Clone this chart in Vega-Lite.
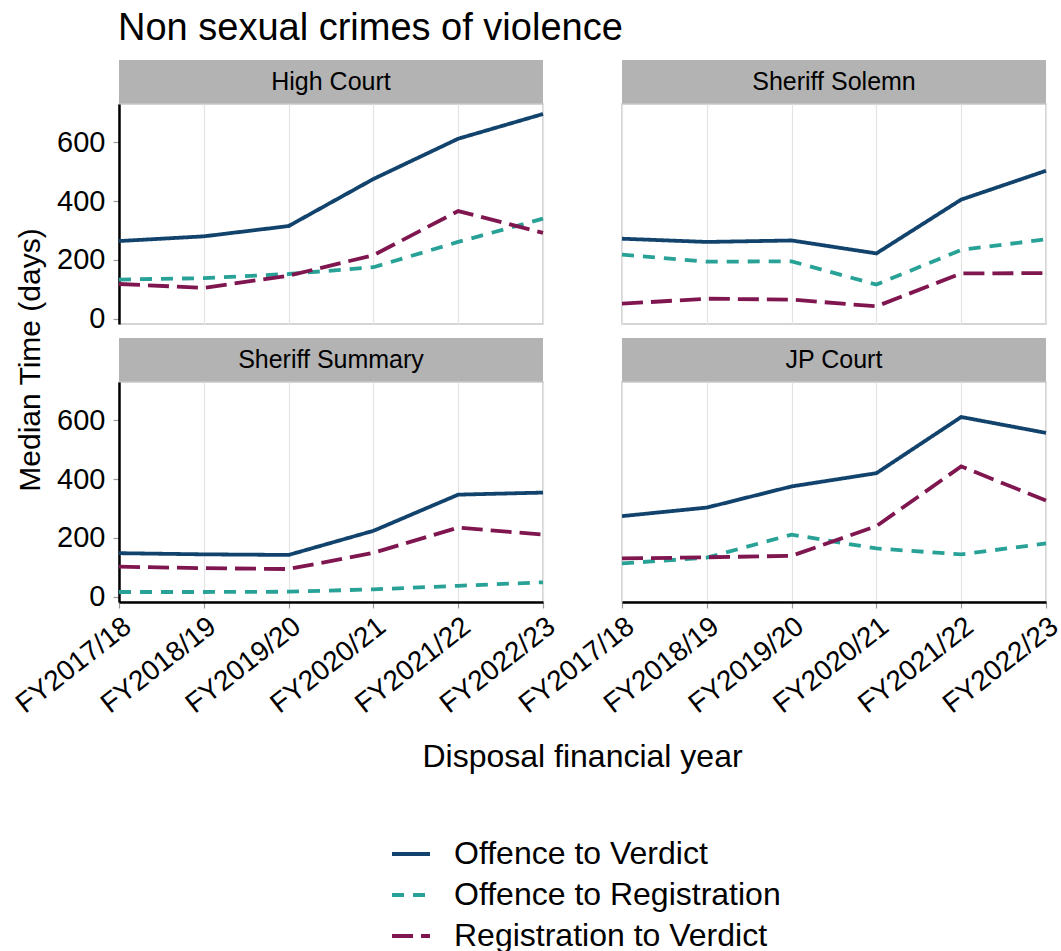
{
 "$schema": "https://vega.github.io/schema/vega-lite/v6.json",
 "padding": {"left": 10, "top": 9, "right": 0, "bottom": 0},
 "background": "white",
 "title": {"text": "Non sexual crimes of violence", "anchor": "start", "frame": "group", "dx": 104, "fontSize": 38, "fontWeight": "normal", "font": "Liberation Sans", "color": "#000000", "offset": 7},
 "datasets": {
  "times": [
   {"court": "High Court", "year": "FY2017/18", "measure": "Offence to Verdict", "days": 264},
   {"court": "High Court", "year": "FY2018/19", "measure": "Offence to Verdict", "days": 280},
   {"court": "High Court", "year": "FY2019/20", "measure": "Offence to Verdict", "days": 315},
   {"court": "High Court", "year": "FY2020/21", "measure": "Offence to Verdict", "days": 475},
   {"court": "High Court", "year": "FY2021/22", "measure": "Offence to Verdict", "days": 612},
   {"court": "High Court", "year": "FY2022/23", "measure": "Offence to Verdict", "days": 696},
   {"court": "High Court", "year": "FY2017/18", "measure": "Offence to Registration", "days": 133},
   {"court": "High Court", "year": "FY2018/19", "measure": "Offence to Registration", "days": 138},
   {"court": "High Court", "year": "FY2019/20", "measure": "Offence to Registration", "days": 152},
   {"court": "High Court", "year": "FY2020/21", "measure": "Offence to Registration", "days": 175},
   {"court": "High Court", "year": "FY2021/22", "measure": "Offence to Registration", "days": 261},
   {"court": "High Court", "year": "FY2022/23", "measure": "Offence to Registration", "days": 340},
   {"court": "High Court", "year": "FY2017/18", "measure": "Registration to Verdict", "days": 118},
   {"court": "High Court", "year": "FY2018/19", "measure": "Registration to Verdict", "days": 105},
   {"court": "High Court", "year": "FY2019/20", "measure": "Registration to Verdict", "days": 146},
   {"court": "High Court", "year": "FY2020/21", "measure": "Registration to Verdict", "days": 216},
   {"court": "High Court", "year": "FY2021/22", "measure": "Registration to Verdict", "days": 366},
   {"court": "High Court", "year": "FY2022/23", "measure": "Registration to Verdict", "days": 292},
   {"court": "Sheriff Solemn", "year": "FY2017/18", "measure": "Offence to Verdict", "days": 272},
   {"court": "Sheriff Solemn", "year": "FY2018/19", "measure": "Offence to Verdict", "days": 261},
   {"court": "Sheriff Solemn", "year": "FY2019/20", "measure": "Offence to Verdict", "days": 266},
   {"court": "Sheriff Solemn", "year": "FY2020/21", "measure": "Offence to Verdict", "days": 222},
   {"court": "Sheriff Solemn", "year": "FY2021/22", "measure": "Offence to Verdict", "days": 405},
   {"court": "Sheriff Solemn", "year": "FY2022/23", "measure": "Offence to Verdict", "days": 503},
   {"court": "Sheriff Solemn", "year": "FY2017/18", "measure": "Offence to Registration", "days": 218},
   {"court": "Sheriff Solemn", "year": "FY2018/19", "measure": "Offence to Registration", "days": 194},
   {"court": "Sheriff Solemn", "year": "FY2019/20", "measure": "Offence to Registration", "days": 195},
   {"court": "Sheriff Solemn", "year": "FY2020/21", "measure": "Offence to Registration", "days": 116},
   {"court": "Sheriff Solemn", "year": "FY2021/22", "measure": "Offence to Registration", "days": 234},
   {"court": "Sheriff Solemn", "year": "FY2022/23", "measure": "Offence to Registration", "days": 270},
   {"court": "Sheriff Solemn", "year": "FY2017/18", "measure": "Registration to Verdict", "days": 51},
   {"court": "Sheriff Solemn", "year": "FY2018/19", "measure": "Registration to Verdict", "days": 68},
   {"court": "Sheriff Solemn", "year": "FY2019/20", "measure": "Registration to Verdict", "days": 65},
   {"court": "Sheriff Solemn", "year": "FY2020/21", "measure": "Registration to Verdict", "days": 42},
   {"court": "Sheriff Solemn", "year": "FY2021/22", "measure": "Registration to Verdict", "days": 154},
   {"court": "Sheriff Solemn", "year": "FY2022/23", "measure": "Registration to Verdict", "days": 155},
   {"court": "Sheriff Summary", "year": "FY2017/18", "measure": "Offence to Verdict", "days": 148},
   {"court": "Sheriff Summary", "year": "FY2018/19", "measure": "Offence to Verdict", "days": 144},
   {"court": "Sheriff Summary", "year": "FY2019/20", "measure": "Offence to Verdict", "days": 142},
   {"court": "Sheriff Summary", "year": "FY2020/21", "measure": "Offence to Verdict", "days": 224},
   {"court": "Sheriff Summary", "year": "FY2021/22", "measure": "Offence to Verdict", "days": 347},
   {"court": "Sheriff Summary", "year": "FY2022/23", "measure": "Offence to Verdict", "days": 354},
   {"court": "Sheriff Summary", "year": "FY2017/18", "measure": "Offence to Registration", "days": 16},
   {"court": "Sheriff Summary", "year": "FY2018/19", "measure": "Offence to Registration", "days": 16},
   {"court": "Sheriff Summary", "year": "FY2019/20", "measure": "Offence to Registration", "days": 17},
   {"court": "Sheriff Summary", "year": "FY2020/21", "measure": "Offence to Registration", "days": 25},
   {"court": "Sheriff Summary", "year": "FY2021/22", "measure": "Offence to Registration", "days": 37},
   {"court": "Sheriff Summary", "year": "FY2022/23", "measure": "Offence to Registration", "days": 49},
   {"court": "Sheriff Summary", "year": "FY2017/18", "measure": "Registration to Verdict", "days": 102},
   {"court": "Sheriff Summary", "year": "FY2018/19", "measure": "Registration to Verdict", "days": 97},
   {"court": "Sheriff Summary", "year": "FY2019/20", "measure": "Registration to Verdict", "days": 94},
   {"court": "Sheriff Summary", "year": "FY2020/21", "measure": "Registration to Verdict", "days": 149},
   {"court": "Sheriff Summary", "year": "FY2021/22", "measure": "Registration to Verdict", "days": 235},
   {"court": "Sheriff Summary", "year": "FY2022/23", "measure": "Registration to Verdict", "days": 211},
   {"court": "JP Court", "year": "FY2017/18", "measure": "Offence to Verdict", "days": 274},
   {"court": "JP Court", "year": "FY2018/19", "measure": "Offence to Verdict", "days": 303},
   {"court": "JP Court", "year": "FY2019/20", "measure": "Offence to Verdict", "days": 375},
   {"court": "JP Court", "year": "FY2020/21", "measure": "Offence to Verdict", "days": 420},
   {"court": "JP Court", "year": "FY2021/22", "measure": "Offence to Verdict", "days": 611},
   {"court": "JP Court", "year": "FY2022/23", "measure": "Offence to Verdict", "days": 557},
   {"court": "JP Court", "year": "FY2017/18", "measure": "Offence to Registration", "days": 113},
   {"court": "JP Court", "year": "FY2018/19", "measure": "Offence to Registration", "days": 133},
   {"court": "JP Court", "year": "FY2019/20", "measure": "Offence to Registration", "days": 211},
   {"court": "JP Court", "year": "FY2020/21", "measure": "Offence to Registration", "days": 164},
   {"court": "JP Court", "year": "FY2021/22", "measure": "Offence to Registration", "days": 144},
   {"court": "JP Court", "year": "FY2022/23", "measure": "Offence to Registration", "days": 181},
   {"court": "JP Court", "year": "FY2017/18", "measure": "Registration to Verdict", "days": 130},
   {"court": "JP Court", "year": "FY2018/19", "measure": "Registration to Verdict", "days": 134},
   {"court": "JP Court", "year": "FY2019/20", "measure": "Registration to Verdict", "days": 139},
   {"court": "JP Court", "year": "FY2020/21", "measure": "Registration to Verdict", "days": 240},
   {"court": "JP Court", "year": "FY2021/22", "measure": "Registration to Verdict", "days": 443},
   {"court": "JP Court", "year": "FY2022/23", "measure": "Registration to Verdict", "days": 327}
  ],
  "blank": [{"t": ""}]
 },
 "columns": 5,
 "align": "each",
 "bounds": "flush",
 "spacing": 0,
 "concat": [
  {"width": 1, "height": 1, "data": {"name": "blank"}, "mark": "text", "encoding": {"text": {"field": "t"}}},
  {"width": 71, "height": 1, "data": {"name": "blank"}, "mark": "text", "encoding": {"text": {"field": "t"}}},
  {
   "width": 424, "height": 44,
   "data": {"values": [{"label": "High Court"}]},
   "mark": {"type": "text", "fontSize": 25},
   "encoding": {"text": {"field": "label"}},
   "view": {"fill": "#b3b3b3", "stroke": null}
  },
  {"width": 1, "height": 1, "data": {"name": "blank"}, "mark": "text", "encoding": {"text": {"field": "t"}}},
  {
   "width": 424, "height": 44,
   "data": {"values": [{"label": "Sheriff Solemn"}]},
   "mark": {"type": "text", "fontSize": 25},
   "encoding": {"text": {"field": "label"}},
   "view": {"fill": "#b3b3b3", "stroke": null}
  },

  {"width": 1, "height": 1, "data": {"name": "blank"}, "mark": "text", "encoding": {"text": {"field": "t"}}},
  {"width": 1, "height": 1, "data": {"name": "blank"}, "mark": "text", "encoding": {"text": {"field": "t"}}},
  {
   "width": 424, "height": 220,
   "data": {"name": "times"},
   "transform": [{"filter": "datum.court === 'High Court'"}],
   "view": {"stroke": "#c8c8c8", "strokeWidth": 1.5},
   "mark": {"type": "line", "strokeWidth": 3.8},
   "encoding": {
    "x": {"field": "year", "type": "ordinal", "scale": {"type": "point", "padding": 0},
          "axis": {"title": null, "labels": false, "ticks": false, "domain": false, "grid": true}},
    "y": {"field": "days", "type": "quantitative", "scale": {"domain": [-18, 730], "nice": false, "zero": false},
          "axis": {"title": null, "values": [0, 200, 400, 600], "grid": false, "domain": true}},
    "color": {"field": "measure", "type": "nominal", "scale": {"domain": ["Offence to Verdict", "Offence to Registration", "Registration to Verdict"], "range": ["#12436D", "#28A197", "#801650"]}},
    "strokeDash": {"field": "measure", "type": "nominal", "scale": {"domain": ["Offence to Verdict", "Offence to Registration", "Registration to Verdict"], "range": [[1, 0], [12, 9], [21, 8]]}}
   }
  },
  {"width": 1, "height": 1, "data": {"name": "blank"}, "mark": "text", "encoding": {"text": {"field": "t"}}},
  {
   "width": 424, "height": 220,
   "data": {"name": "times"},
   "transform": [{"filter": "datum.court === 'Sheriff Solemn'"}],
   "view": {"stroke": "#c8c8c8", "strokeWidth": 1.5},
   "mark": {"type": "line", "strokeWidth": 3.8},
   "encoding": {
    "x": {"field": "year", "type": "ordinal", "scale": {"type": "point", "padding": 0},
          "axis": {"title": null, "labels": false, "ticks": false, "domain": false, "grid": true}},
    "y": {"field": "days", "type": "quantitative", "scale": {"domain": [-18, 730], "nice": false, "zero": false}, "axis": null},
    "color": {"field": "measure", "type": "nominal", "scale": {"domain": ["Offence to Verdict", "Offence to Registration", "Registration to Verdict"], "range": ["#12436D", "#28A197", "#801650"]}},
    "strokeDash": {"field": "measure", "type": "nominal", "scale": {"domain": ["Offence to Verdict", "Offence to Registration", "Registration to Verdict"], "range": [[1, 0], [12, 9], [21, 8]]}}
   }
  },

  {"width": 1, "height": 1, "data": {"name": "blank"}, "mark": "text", "encoding": {"text": {"field": "t"}}},
  {"width": 1, "height": 1, "data": {"name": "blank"}, "mark": "text", "encoding": {"text": {"field": "t"}}},
  {"width": 1, "height": 14, "data": {"name": "blank"}, "mark": "text", "encoding": {"text": {"field": "t"}}},
  {"width": 1, "height": 1, "data": {"name": "blank"}, "mark": "text", "encoding": {"text": {"field": "t"}}},
  {"width": 1, "height": 1, "data": {"name": "blank"}, "mark": "text", "encoding": {"text": {"field": "t"}}},

  {
   "width": 34, "height": 44,
   "data": {"values": [{"t": "Median Time (days)"}]},
   "mark": {"type": "text", "angle": 270, "fontSize": 30},
   "encoding": {"text": {"field": "t"}}
  },
  {"width": 1, "height": 1, "data": {"name": "blank"}, "mark": "text", "encoding": {"text": {"field": "t"}}},
  {
   "width": 424, "height": 44,
   "data": {"values": [{"label": "Sheriff Summary"}]},
   "mark": {"type": "text", "fontSize": 25},
   "encoding": {"text": {"field": "label"}},
   "view": {"fill": "#b3b3b3", "stroke": null}
  },
  {"width": 1, "height": 1, "data": {"name": "blank"}, "mark": "text", "encoding": {"text": {"field": "t"}}},
  {
   "width": 424, "height": 44,
   "data": {"values": [{"label": "JP Court"}]},
   "mark": {"type": "text", "fontSize": 25},
   "encoding": {"text": {"field": "label"}},
   "view": {"fill": "#b3b3b3", "stroke": null}
  },

  {"width": 1, "height": 1, "data": {"name": "blank"}, "mark": "text", "encoding": {"text": {"field": "t"}}},
  {"width": 1, "height": 1, "data": {"name": "blank"}, "mark": "text", "encoding": {"text": {"field": "t"}}},
  {
   "width": 424, "height": 220,
   "data": {"name": "times"},
   "transform": [{"filter": "datum.court === 'Sheriff Summary'"}],
   "view": {"stroke": "#c8c8c8", "strokeWidth": 1.5},
   "mark": {"type": "line", "strokeWidth": 3.8},
   "encoding": {
    "x": {"field": "year", "type": "ordinal", "scale": {"type": "point", "padding": 0},
          "axis": {"title": null, "labelAngle": -38, "labelAlign": "right", "labelBaseline": "top", "domain": true, "grid": true}},
    "y": {"field": "days", "type": "quantitative", "scale": {"domain": [-18, 730], "nice": false, "zero": false},
          "axis": {"title": null, "values": [0, 200, 400, 600], "grid": false, "domain": true}},
    "color": {"field": "measure", "type": "nominal", "scale": {"domain": ["Offence to Verdict", "Offence to Registration", "Registration to Verdict"], "range": ["#12436D", "#28A197", "#801650"]}},
    "strokeDash": {"field": "measure", "type": "nominal", "scale": {"domain": ["Offence to Verdict", "Offence to Registration", "Registration to Verdict"], "range": [[1, 0], [12, 9], [21, 8]]}}
   }
  },
  {"width": 1, "height": 1, "data": {"name": "blank"}, "mark": "text", "encoding": {"text": {"field": "t"}}},
  {
   "width": 424, "height": 220,
   "data": {"name": "times"},
   "transform": [{"filter": "datum.court === 'JP Court'"}],
   "view": {"stroke": "#c8c8c8", "strokeWidth": 1.5},
   "mark": {"type": "line", "strokeWidth": 3.8},
   "encoding": {
    "x": {"field": "year", "type": "ordinal", "scale": {"type": "point", "padding": 0},
          "axis": {"title": null, "labelAngle": -38, "labelAlign": "right", "labelBaseline": "top", "domain": true, "grid": true}},
    "y": {"field": "days", "type": "quantitative", "scale": {"domain": [-18, 730], "nice": false, "zero": false}, "axis": null},
    "color": {"field": "measure", "type": "nominal", "scale": {"domain": ["Offence to Verdict", "Offence to Registration", "Registration to Verdict"], "range": ["#12436D", "#28A197", "#801650"]}},
    "strokeDash": {"field": "measure", "type": "nominal", "scale": {"domain": ["Offence to Verdict", "Offence to Registration", "Registration to Verdict"], "range": [[1, 0], [12, 9], [21, 8]]}}
   }
  },

  {"width": 1, "height": 1, "data": {"name": "blank"}, "mark": "text", "encoding": {"text": {"field": "t"}}},
  {"width": 1, "height": 1, "data": {"name": "blank"}, "mark": "text", "encoding": {"text": {"field": "t"}}},
  {"width": 1, "height": 1, "data": {"name": "blank"}, "mark": "text", "encoding": {"text": {"field": "t"}}},
  {
   "width": 79, "height": 310,
   "data": {"values": [{"t": "Disposal financial year"}]},
   "mark": {"type": "text", "fontSize": 32},
   "encoding": {"text": {"field": "t"}}
  },
  {"width": 1, "height": 1, "data": {"name": "blank"}, "mark": "text", "encoding": {"text": {"field": "t"}}}
 ],
 "config": {
  "font": "Liberation Sans",
  "view": {"stroke": null},
  "text": {"font": "Liberation Sans", "color": "#000000"},
  "axis": {
   "labelFont": "Liberation Sans", "labelColor": "#000000", "labelFontSize": 29,
   "domainColor": "#000000", "domainWidth": 2.5, "tickColor": "#9a9a9a", "tickSize": 6, "tickWidth": 1.2,
   "gridColor": "#e3e3e3", "gridWidth": 1.2, "labelPadding": 8
  },
  "axisX": {"labelPadding": 4, "labelFontSize": 28},
  "legend": {
   "orient": "none", "legendX": 376, "legendY": 773, "direction": "vertical", "title": null,
   "labelFont": "Liberation Sans", "labelFontSize": 32, "labelColor": "#000000", "labelOffset": 22, "labelLimit": 500,
   "symbolType": "stroke", "symbolSize": 1444, "symbolStrokeWidth": 4, "rowPadding": 4, "padding": 0
  }
 }
}
